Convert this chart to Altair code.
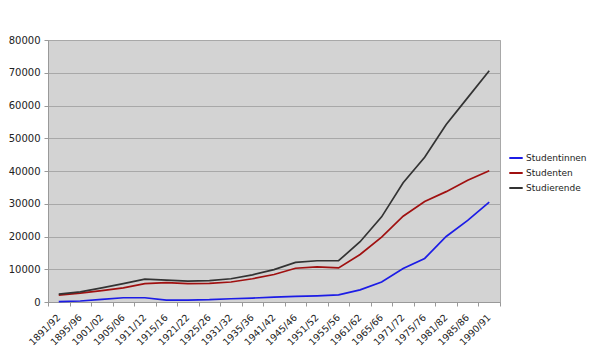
import altair as alt
import pandas as pd

semester = ["1891/92", "1895/96", "1901/02", "1905/06", "1911/12", "1915/16", "1921/22",
            "1925/26", "1931/32", "1935/36", "1941/42", "1945/46", "1951/52", "1955/56",
            "1961/62", "1965/66", "1971/72", "1975/76", "1981/82", "1985/86", "1990/91"]
studentinnen = [100, 300, 800, 1300, 1300, 600, 600, 700, 1000, 1200, 1500, 1700, 1900, 2200,
                3700, 6100, 10200, 13300, 20000, 24900, 30500]
studenten = [2100, 2700, 3500, 4300, 5600, 5900, 5600, 5700, 6100, 7100, 8400, 10300, 10700, 10400,
             14500, 19800, 26200, 30700, 33700, 37200, 40100]
studierende = [2400, 3100, 4300, 5600, 7000, 6700, 6400, 6500, 7100, 8300, 9900, 12100, 12600, 12600,
               18400, 26000, 36400, 44200, 54200, 62400, 70600]

series = ["Studentinnen", "Studenten", "Studierende"]
colors = ["#1c1ce6", "#a01010", "#333333"]

rows = []
for name, vals in zip(series, [studentinnen, studenten, studierende]):
    for s, v in zip(semester, vals):
        rows.append({"Semester": s, "Wert": v, "Reihe": name})
df = pd.DataFrame(rows)

font = "DejaVu Sans"

chart = alt.Chart(df).mark_line(strokeWidth=1.7).encode(
    x=alt.X("Semester:O", sort=semester, bandPosition=0.5,
            scale=alt.Scale(type="band", paddingInner=0, paddingOuter=0),
            axis=alt.Axis(title=None, labelAngle=-45, labelAlign="right", labelBaseline="top",
                          tickBand="extent", grid=False, domainColor="#999999",
                          tickColor="#999999", tickSize=4, labelFontSize=9.5,
                          labelFont=font, labelColor="#222222", labelPadding=6,
                          labelOffset=-4)),
    y=alt.Y("Wert:Q", scale=alt.Scale(domain=[0, 80000], nice=False),
            axis=alt.Axis(title=None, values=list(range(0, 80001, 10000)), format="d",
                          gridColor="#a8a8a8", gridWidth=1, domainColor="#999999",
                          tickColor="#999999", tickSize=4, labelFontSize=10,
                          labelFont=font, labelColor="#222222", labelPadding=4)),
    color=alt.Color("Reihe:N", sort=series,
                    scale=alt.Scale(domain=series, range=colors),
                    legend=alt.Legend(title=None, orient="none", legendX=460, legendY=110,
                                      symbolType="stroke", symbolStrokeWidth=2,
                                      symbolSize=180, labelFontSize=9, labelFont=font,
                                      labelColor="#222222", rowPadding=2, labelOffset=2)),
).properties(
    width=452, height=262,
    background="white",
    autosize=alt.AutoSizeParams(type="none"),
    padding={"left": 48, "top": 40, "right": 90, "bottom": 55},
).configure_view(
    fill="#d3d3d3", stroke="#a8a8a8", strokeWidth=1
)

chart.save("out.html", embed_options={"renderer": "svg", "actions": False})
